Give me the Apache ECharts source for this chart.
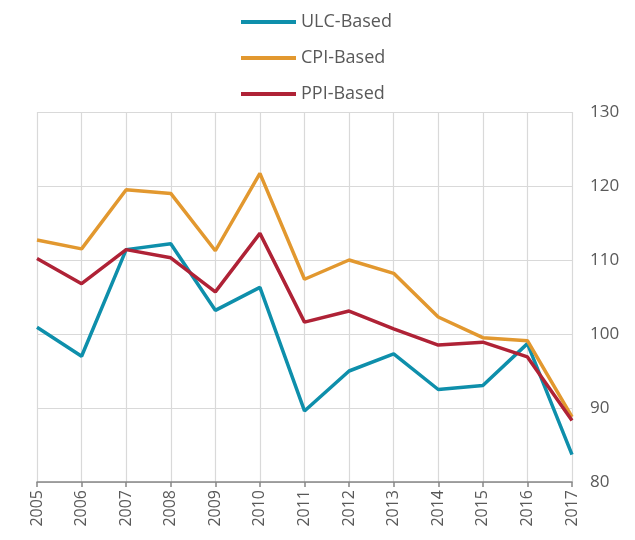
<!DOCTYPE html>
<html>
<head>
<meta charset="utf-8">
<script src="https://cdn.jsdelivr.net/npm/echarts@6/dist/echarts.min.js"></script>
<style>
  html, body { margin: 0; padding: 0; background: #fff; }
  #chart { width: 635px; height: 540px; }
</style>
</head>
<body>
<div id="chart"></div>
<script>
// Real effective exchange rate indices by deflator
const years = ['2005','2006','2007','2008','2009','2010','2011','2012','2013','2014','2015','2016','2017'];
const ulcBased = [100.9, 97.0, 111.4, 112.2, 103.2, 106.3, 89.6, 95.0, 97.3, 92.5, 93.05, 98.7, 83.7];
const cpiBased = [112.7, 111.5, 119.5, 119.0, 111.25, 121.7, 107.4, 110.0, 108.2, 102.3, 99.5, 99.1, 88.8];
const ppiBased = [110.2, 106.8, 111.4, 110.3, 105.7, 113.6, 101.6, 103.1, 100.7, 98.5, 98.9, 96.9, 88.3];
const yTicks = { min: 80, max: 130, step: 10 };

const colors = { ulc: '#0E8FAB', cpi: '#E2982F', ppi: '#AF2236' };
const font = '"Open Sans", "Noto Sans", sans-serif';

const chart = echarts.init(document.getElementById('chart'));

function lineSeries(name, data, color) {
  return {
    name: name,
    type: 'line',
    data: data,
    symbol: 'none',
    lineStyle: { color: color, width: 3.5 },
    itemStyle: { color: color },
    z: 3
  };
}

chart.setOption({
  animation: false,
  legend: {
    orient: 'vertical',
    left: 236,
    top: 8,
    itemWidth: 55,
    itemHeight: 4,
    itemGap: 18,
    icon: 'rect',
    textStyle: { fontFamily: font, fontSize: 18, color: '#595959', padding: [0, 0, 0, 0] },
    data: ['ULC-Based', 'CPI-Based', 'PPI-Based']
  },
  grid: { left: 37, right: 63, top: 112, bottom: 58, containLabel: false },
  xAxis: {
    type: 'category',
    data: years,
    boundaryGap: false,
    axisLine: { lineStyle: { color: '#868686', width: 1.5 } },
    axisTick: { show: true, alignWithLabel: true, length: 5, lineStyle: { color: '#868686', width: 1.5 } },
    axisLabel: { rotate: 90, fontFamily: font, fontSize: 16, color: '#595959', margin: 8, interval: 0 },
    splitLine: { show: true, lineStyle: { color: '#D9D9D9', width: 1.2 } }
  },
  yAxis: {
    type: 'value',
    position: 'right',
    min: yTicks.min,
    max: yTicks.max,
    interval: yTicks.step,
    axisLine: { show: false },
    axisTick: { show: false },
    axisLabel: { fontFamily: font, fontSize: 17, color: '#595959', margin: 18 },
    splitLine: { show: true, lineStyle: { color: '#D9D9D9', width: 1.2 } }
  },
  series: [
    lineSeries('ULC-Based', ulcBased, colors.ulc),
    lineSeries('CPI-Based', cpiBased, colors.cpi),
    lineSeries('PPI-Based', ppiBased, colors.ppi)
  ]
});
</script>
</body>
</html>
